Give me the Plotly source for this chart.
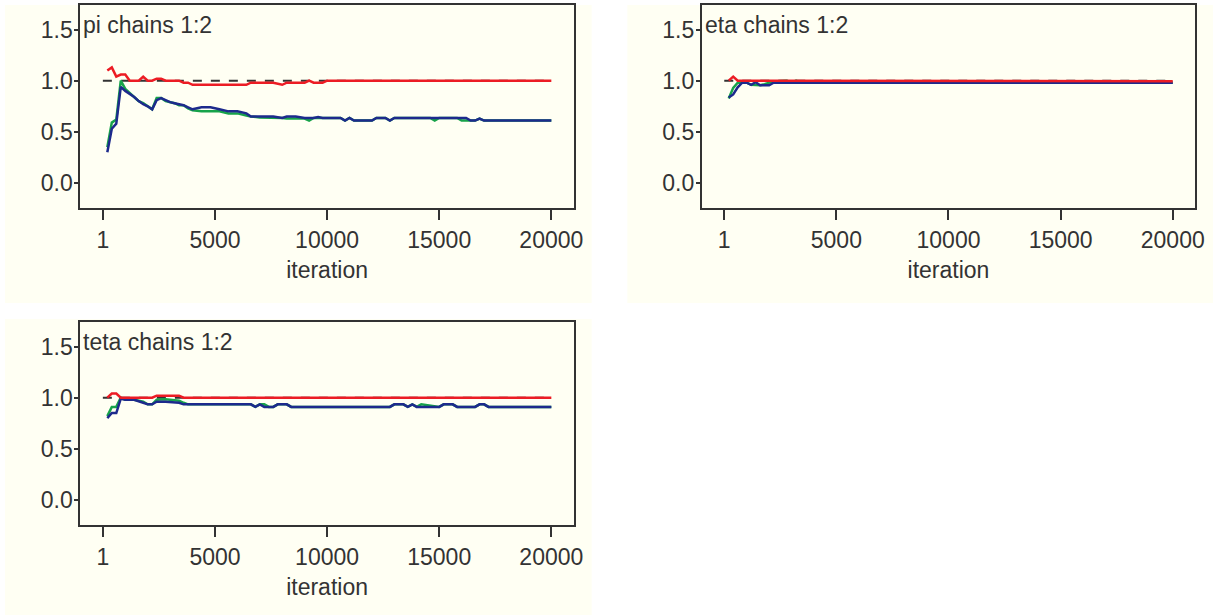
import plotly.graph_objects as go

W, H = 1226, 615

# ---------------- data ----------------
pi_iter = [200, 400, 600, 800, 1000, 1200, 1400, 1600, 1800, 2000, 2200, 2400, 2600, 2800,
           3000, 3200, 3400, 3600, 3800, 4000, 4400, 4800, 5200, 5600, 6000, 6400, 6600,
           7000, 7600, 8000, 8200, 8600, 9000, 9200, 9400, 9600, 9800, 10000, 10600, 10800,
           11000, 11200, 12000, 12200, 12600, 12800, 13000, 14600, 14800, 15000, 15800,
           16000, 16200, 16400, 16600, 16800, 17000, 17200, 20000]
pi_red = [1.10, 1.13, 1.04, 1.06, 1.06, 1.0, 1.0, 1.0, 1.04, 1.0, 1.0, 1.02, 1.02, 1.0,
          1.0, 1.0, 1.0, 0.98, 0.98, 0.96, 0.96, 0.96, 0.96, 0.96, 0.96, 0.96, 0.98,
          0.98, 0.98, 0.96, 0.98, 0.98, 0.98, 1.0, 0.98, 0.98, 0.98, 1.0, 1.0, 1.0,
          1.0, 1.0, 1.0, 1.0, 1.0, 1.0, 1.0, 1.0, 1.0, 1.0, 1.0,
          1.0, 1.0, 1.0, 1.0, 1.0, 1.0, 1.0, 1.0]
pi_blue = [0.30, 0.53, 0.58, 0.94, 0.90, 0.87, 0.84, 0.80, 0.77, 0.75, 0.72, 0.81, 0.83, 0.81,
           0.79, 0.78, 0.77, 0.76, 0.74, 0.72, 0.74, 0.74, 0.72, 0.70, 0.70, 0.68, 0.65,
           0.65, 0.65, 0.635, 0.65, 0.65, 0.635, 0.635, 0.635, 0.645, 0.635, 0.635, 0.635, 0.61,
           0.635, 0.61, 0.61, 0.635, 0.635, 0.61, 0.635, 0.635, 0.635, 0.635, 0.635,
           0.635, 0.635, 0.61, 0.61, 0.63, 0.61, 0.61, 0.61]
pi_green = [0.35, 0.59, 0.62, 1.00, 0.92, 0.88, 0.84, 0.80, 0.78, 0.75, 0.72, 0.83, 0.83, 0.80,
            0.79, 0.78, 0.76, 0.76, 0.73, 0.71, 0.70, 0.70, 0.70, 0.68, 0.68, 0.66, 0.65,
            0.64, 0.64, 0.635, 0.63, 0.63, 0.63, 0.61, 0.635, 0.635, 0.635, 0.635, 0.635, 0.61,
            0.635, 0.61, 0.61, 0.635, 0.635, 0.61, 0.635, 0.635, 0.61, 0.635, 0.635,
            0.61, 0.61, 0.61, 0.61, 0.63, 0.61, 0.61, 0.61]

eta_iter = [200, 400, 600, 800, 1000, 1200, 1400, 1600, 1800, 2000, 2200, 2400, 2600, 2800,
            3000, 3200, 3400, 3600, 3800, 6000, 6200, 6400, 6600, 20000]
eta_red = [1.0, 1.04, 1.0, 1.0, 1.0, 1.0, 1.0, 1.0, 1.0, 1.0, 0.995, 0.995, 0.995, 0.995,
           0.995, 0.995, 0.995, 0.995, 0.995, 0.995, 0.995, 0.995, 0.995, 0.995]
eta_blue = [0.835, 0.865, 0.935, 0.98, 0.98, 0.96, 0.985, 0.955, 0.955, 0.955, 0.98, 0.98, 0.98, 0.98,
            0.98, 0.98, 0.98, 0.98, 0.98, 0.98, 0.98, 0.98, 0.98, 0.98]
eta_green = [0.825, 0.93, 0.98, 0.98, 0.98, 0.96, 0.96, 0.955, 0.965, 0.98, 0.995, 0.995, 1.0, 1.0,
             0.98, 1.0, 0.98, 0.99, 0.98, 0.98, 0.99, 0.99, 0.98, 0.98]

teta_iter = [200, 400, 600, 800, 1000, 1400, 1800, 2000, 2200, 2400, 2800, 3400, 3600, 3800,
             6600, 6800, 7000, 7200, 7400, 7600, 7800, 8200, 8400, 12800, 13000, 13400, 13600,
             13800, 14000, 14200, 15000, 15200, 15600, 15800, 16600, 16800, 17000, 17200, 20000]
teta_red = [1.0, 1.04, 1.04, 1.0, 1.0, 1.0, 1.0, 1.0, 1.0, 1.02, 1.02, 1.02, 1.0, 1.0,
            1.0, 1.0, 1.0, 1.0, 1.0, 1.0, 1.0, 1.0, 1.0, 1.0, 1.0, 1.0, 1.0,
            1.0, 1.0, 1.0, 1.0, 1.0, 1.0, 1.0, 1.0, 1.0, 1.0, 1.0, 1.0]
teta_blue = [0.80, 0.85, 0.85, 0.99, 0.98, 0.98, 0.95, 0.935, 0.935, 0.96, 0.96, 0.95, 0.935, 0.935,
             0.935, 0.91, 0.935, 0.91, 0.91, 0.91, 0.935, 0.935, 0.91, 0.91, 0.935, 0.935, 0.91,
             0.935, 0.91, 0.91, 0.91, 0.935, 0.935, 0.91, 0.91, 0.935, 0.935, 0.91, 0.91]
teta_green = [0.82, 0.91, 0.91, 1.0, 0.98, 0.98, 0.96, 0.935, 0.935, 0.98, 0.985, 0.97, 0.95, 0.935,
              0.935, 0.91, 0.935, 0.935, 0.91, 0.91, 0.935, 0.935, 0.91, 0.91, 0.935, 0.935, 0.91,
              0.935, 0.91, 0.935, 0.91, 0.935, 0.935, 0.91, 0.91, 0.935, 0.935, 0.91, 0.91]

ref_x = [1, 20000]
ref_y = [1.0, 1.0]

x_ticks = [1, 5000, 10000, 15000, 20000]
x_ticktext = ["1", "5000", "10000", "15000", "20000"]
y_ticks = [0.0, 0.5, 1.0, 1.5]
y_ticktext = ["0.0", "0.5", "1.0", "1.5"]
titles = ["pi chains 1:2", "eta chains 1:2", "teta chains 1:2"]

# ---------------- styling ----------------
RED = "#ec1c24"
GREEN = "#17a34a"
BLUE = "#1d2a8c"
AX = "#333333"
CREAM = "#fffff3"
FONT = "Liberation Sans, Arial, sans-serif"
FS = 23

def px_x(p):
    return p / W

def px_y(p):
    return 1 - p / H

panels = [
    dict(px=(81, 578), py=(5, 208), bx=(5, 596), by=(5, 303)),
    dict(px=(707, 1204), py=(5, 208), bx=(632, 1222), by=(5, 303)),
    dict(px=(81, 578), py=(322, 525), bx=(5, 596), by=(319, 615)),
]
series = [
    (pi_iter, pi_green, pi_blue, pi_red),
    (eta_iter, eta_green, eta_blue, eta_red),
    (teta_iter, teta_green, teta_blue, teta_red),
]

fig = go.Figure()
shapes = []
annotations = []
layout = {}

for i, (pn, (it, g, b, r)) in enumerate(zip(panels, series)):
    n = "" if i == 0 else str(i + 1)
    xa, ya = "x" + n, "y" + n
    fig.add_trace(go.Scatter(x=ref_x, y=ref_y, mode="lines", xaxis=xa, yaxis=ya,
                             line=dict(color=AX, width=2, dash="dash"), hoverinfo="skip"))
    fig.add_trace(go.Scatter(x=it, y=g, mode="lines", xaxis=xa, yaxis=ya,
                             line=dict(color=GREEN, width=2.5)))
    fig.add_trace(go.Scatter(x=it, y=b, mode="lines", xaxis=xa, yaxis=ya,
                             line=dict(color=BLUE, width=2.5)))
    fig.add_trace(go.Scatter(x=it, y=r, mode="lines", xaxis=xa, yaxis=ya,
                             line=dict(color=RED, width=2.5)))
    layout["xaxis" + n] = dict(
        domain=[px_x(pn["px"][0]), px_x(pn["px"][1])], anchor=ya,
        range=[-1000, 21000], tickmode="array", tickvals=x_ticks, ticktext=x_ticktext,
        ticks="outside", ticklen=10, tickwidth=2, tickcolor=AX,
        showline=True, mirror=True, linecolor=AX, linewidth=2,
        showgrid=False, zeroline=False,
        tickfont=dict(family=FONT, size=FS, color=AX),
        title=dict(text="iteration", font=dict(family=FONT, size=FS, color=AX), standoff=10),
    )
    layout["yaxis" + n] = dict(
        domain=[px_y(pn["py"][1]), px_y(pn["py"][0])], anchor=xa,
        range=[-0.245, 1.74], tickmode="array", tickvals=y_ticks, ticktext=y_ticktext,
        ticks="outside", ticklen=4, tickwidth=2, tickcolor=AX,
        showline=True, mirror=True, linecolor=AX, linewidth=2,
        showgrid=False, zeroline=False, ticklabelstandoff=-3,
        tickfont=dict(family=FONT, size=FS, color=AX),
    )
    shapes.append(dict(type="rect", xref="paper", yref="paper", layer="below",
                       x0=px_x(pn["bx"][0]), x1=px_x(pn["bx"][1]),
                       y0=px_y(pn["by"][1]), y1=px_y(pn["by"][0]),
                       fillcolor=CREAM, line=dict(width=0)))
    annotations.append(dict(xref="paper", yref="paper", x=px_x(pn["px"][0] + 1),
                            y=px_y(pn["py"][0] + 20), xanchor="left", yanchor="middle",
                            text=titles[i], showarrow=False,
                            font=dict(family=FONT, size=FS, color=AX)))

fig.update_layout(
    width=W, height=H, margin=dict(l=0, r=0, t=0, b=0),
    paper_bgcolor="white", plot_bgcolor=CREAM, showlegend=False,
    shapes=shapes, annotations=annotations, **layout,
)

fig.write_html("out.html")
